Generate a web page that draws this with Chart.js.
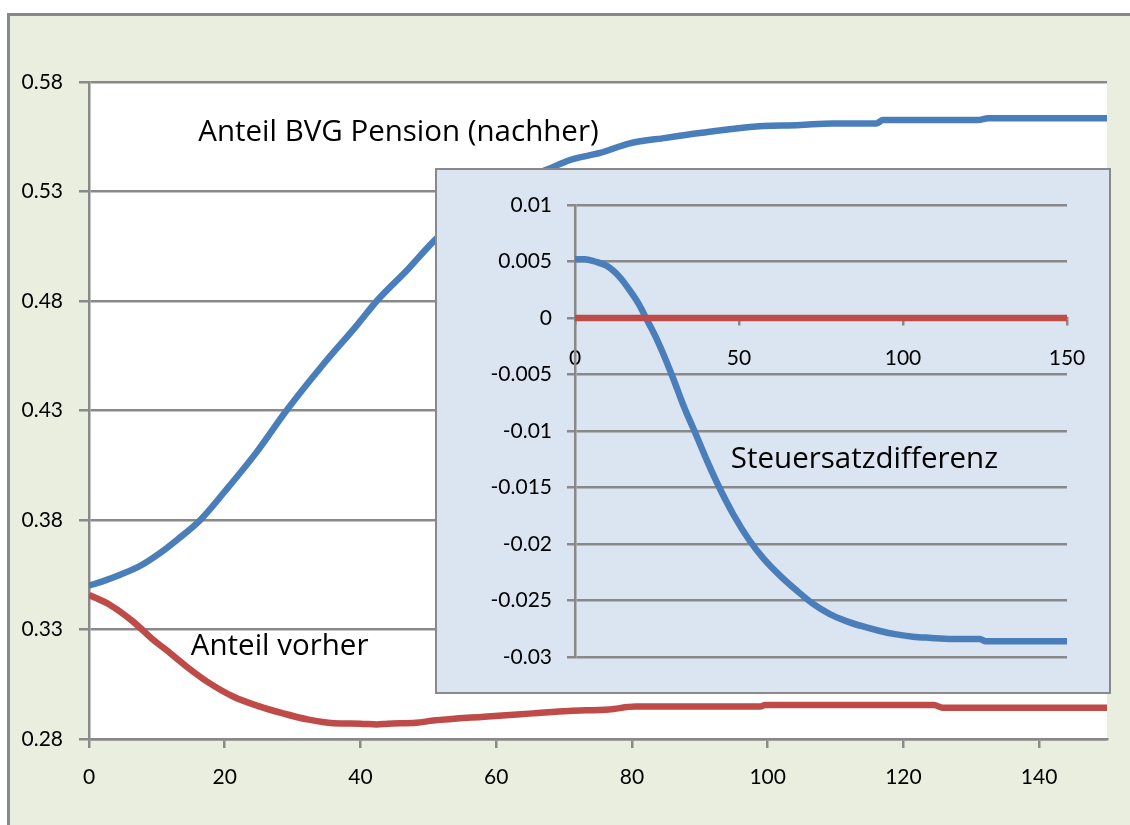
<!DOCTYPE html>
<html>
<head>
<meta charset="utf-8">
<script src="https://cdn.jsdelivr.net/npm/chart.js@4.4.1/dist/chart.umd.min.js"></script>
<style>
  html, body { margin: 0; padding: 0; background: #fff; }
  body { width: 1130px; height: 825px; position: relative; overflow: hidden; }
  #frame { position: absolute; left: 7px; top: 13px; width: 1130px; height: 820px;
           border-top: 3px solid #898989; border-left: 3px solid #898989; background: #eaeedf; }
  #main { position: absolute; left: 0; top: 0; }
  #insetBox { position: absolute; left: 435px; top: 168px; border: 2px solid #898989; background: #dbe5f1; }
  #inset { display: block; }
</style>
</head>
<body>
<div id="frame"></div>
<canvas id="main" width="1130" height="825"></canvas>
<div id="insetBox"><canvas id="inset" width="672" height="522"></canvas></div>
<script>
// main chart: Anteil BVG Pension (nachher) / Anteil vorher
const bvgX = [0, 2, 4.6, 7.5, 10.5, 13, 16.4, 20, 24.7, 29.1, 34.5, 39.5, 42.4, 47, 50.7, 55, 60, 64, 67.5, 71, 75.3, 79.7, 85, 90, 97.4, 104.8, 109.6, 116, 117, 131, 132.5, 150];
const bvgY = [0.350, 0.352, 0.355, 0.359, 0.365, 0.371, 0.380, 0.393, 0.411, 0.430, 0.451, 0.469, 0.480, 0.4945, 0.507, 0.519, 0.529, 0.5355, 0.540, 0.5445, 0.5476, 0.552, 0.5545, 0.5567, 0.5595, 0.5604, 0.5611, 0.5611, 0.5626, 0.5626, 0.5635, 0.5635];

const vorherX = [0, 3.1, 6.5, 9.5, 11.4, 14.4, 17.4, 21.3, 25.2, 28.6, 32.1, 36, 40, 42.4, 44, 48.2, 50.7, 58.2, 65.4, 70.7, 76.6, 80.5, 98.9, 99.6, 124.5, 125.8, 150];
const vorherY = [0.3458, 0.3412, 0.3336, 0.3252, 0.3206, 0.313, 0.3062, 0.2993, 0.2948, 0.2917, 0.289, 0.2872, 0.2870, 0.2866, 0.2870, 0.2874, 0.2884, 0.2902, 0.2917, 0.2928, 0.2935, 0.2948, 0.2948, 0.2955, 0.2955, 0.2943, 0.2943];

const mainXTicks = [0, 20, 40, 60, 80, 100, 120, 140];
const mainXLabels = ['0', '20', '40', '60', '80', '100', '120', '140'];
const mainYTicks = [0.28, 0.33, 0.38, 0.43, 0.48, 0.53, 0.58];
const mainYLabels = ['0.28', '0.33', '0.38', '0.43', '0.48', '0.53', '0.58'];

// inset: Steuersatzdifferenz
const diffX = [0, 3, 6, 9.8, 13.7, 16.8, 19.5, 22, 24.5, 26.8, 30, 33, 37, 40.5, 44, 48.5, 53, 57.5, 62.5, 67.5, 72.6, 77.7, 82.5, 87.8, 93, 98, 103, 108, 115, 123.5, 125, 150];
const diffY = [0.0052, 0.0052, 0.0050, 0.0046, 0.0036, 0.0024, 0.0012, -0.0002, -0.0016, -0.0031, -0.0054, -0.0077, -0.0104, -0.0128, -0.0150, -0.0175, -0.0196, -0.0213, -0.0228, -0.0241, -0.0253, -0.0262, -0.0268, -0.0273, -0.0277, -0.0280, -0.0282, -0.0283, -0.0284, -0.0284, -0.0286, -0.0286];
const zeroX = [0, 150];
const zeroY = [0, 0];

const insetXTicks = [0, 50, 100, 150];
const insetXLabels = ['0', '50', '100', '150'];
const insetYTicks = [-0.03, -0.025, -0.02, -0.015, -0.01, -0.005, 0, 0.005, 0.01];
const insetYLabels = ['-0.03', '-0.025', '-0.02', '-0.015', '-0.01', '-0.005', '0', '0.005', '0.01'];

const BLUE = '#4a7ebb';
const RED = '#be4b48';
const GRID = '#898989';

Chart.defaults.font.family = 'Lato';
Chart.defaults.font.size = 21;
Chart.defaults.color = '#000';

const toPoints = (xs, ys) => xs.map((x, i) => ({x: x, y: ys[i]}));

const plotBg = {
    id: 'plotBg',
    beforeDraw(chart, args, opts) {
        if (!opts.color) return;
        const a = chart.chartArea;
        const ctx = chart.ctx;
        ctx.save();
        ctx.fillStyle = opts.color;
        ctx.fillRect(a.left, a.top, a.right - a.left, a.bottom - a.top);
        ctx.restore();
    }
};

// text labels placed in data units
const notes = {
    id: 'notes',
    afterDatasetsDraw(chart, args, opts) {
        const ctx = chart.ctx;
        ctx.save();
        ctx.font = opts.font;
        ctx.fillStyle = '#000';
        ctx.textAlign = 'left';
        ctx.textBaseline = 'middle';
        opts.items.forEach(n => {
            ctx.fillText(n.text, chart.scales.x.getPixelForValue(n.x), chart.scales.y.getPixelForValue(n.y));
        });
        ctx.restore();
    }
};

function lineSet(label, xs, ys, color) {
    return {
        label: label,
        data: toPoints(xs, ys),
        borderColor: color,
        borderWidth: 6.5,
        pointRadius: 0,
        cubicInterpolationMode: 'monotone',
        borderJoinStyle: 'round',
        fill: false
    };
}

function setTicks(values) {
    return scale => { scale.ticks = values.map(v => ({value: v})); };
}

new Chart(document.getElementById('main'), {
    type: 'line',
    data: {
        datasets: [
            lineSet('Anteil BVG Pension (nachher)', bvgX, bvgY, BLUE),
            lineSet('Anteil vorher', vorherX, vorherY, RED)
        ]
    },
    options: {
        responsive: false,
        animation: false,
        layout: { padding: { top: 82, right: 23, bottom: 0, left: 0 } },
        plugins: {
            legend: { display: false },
            tooltip: { enabled: false },
            plotBg: { color: '#ffffff' },
            notes: {
                font: '29.5px "Open Sans"',
                items: [
                    { text: 'Anteil BVG Pension (nachher)', x: 16.1, y: 0.557 },
                    { text: 'Anteil vorher', x: 15.0, y: 0.322 }
                ]
            }
        },
        scales: {
            x: {
                type: 'linear',
                min: 0,
                max: 150,
                afterBuildTicks: setTicks(mainXTicks),
                afterFit: s => { s.height = 86; },
                ticks: { callback: (v, i) => mainXLabels[i], padding: 17, autoSkip: false, maxRotation: 0 },
                grid: { drawOnChartArea: false, tickLength: 9, color: GRID, lineWidth: 2.5 },
                border: { color: GRID, width: 2.5 }
            },
            y: {
                min: 0.28,
                max: 0.58,
                afterBuildTicks: setTicks(mainYTicks),
                afterFit: s => { s.width = 89; },
                ticks: { callback: (v, i) => mainYLabels[i], padding: 16, autoSkip: false },
                grid: { tickLength: 10, color: GRID, lineWidth: 2.5 },
                border: { color: GRID, width: 2.5 }
            }
        }
    },
    plugins: [plotBg, notes]
});

new Chart(document.getElementById('inset'), {
    type: 'line',
    data: {
        datasets: [
            lineSet('Null', zeroX, zeroY, RED),
            lineSet('Steuersatzdifferenz', diffX, diffY, BLUE)
        ]
    },
    options: {
        responsive: false,
        animation: false,
        layout: { padding: { top: 35, right: 42, bottom: 35, left: 0 } },
        plugins: {
            legend: { display: false },
            tooltip: { enabled: false },
            notes: {
                font: '29.5px "Open Sans"',
                items: [
                    { text: 'Steuersatzdifferenz', x: 47.5, y: -0.0125 }
                ]
            }
        },
        scales: {
            x: {
                type: 'linear',
                min: 0,
                max: 150,
                position: { y: 0 },
                afterBuildTicks: setTicks(insetXTicks),
                ticks: { callback: (v, i) => insetXLabels[i], padding: 22, autoSkip: false, maxRotation: 0 },
                grid: { drawOnChartArea: false, tickLength: 6, color: GRID, lineWidth: 2.5 },
                border: { color: GRID, width: 2.5 }
            },
            y: {
                min: -0.03,
                max: 0.01,
                afterBuildTicks: setTicks(insetYTicks),
                afterFit: s => { s.width = 138; },
                ticks: { callback: (v, i) => insetYLabels[i], padding: 15, autoSkip: false },
                grid: { tickLength: 8, color: GRID, lineWidth: 2.5 },
                border: { color: GRID, width: 2.5 }
            }
        }
    },
    plugins: [notes]
});
</script>
</body>
</html>
